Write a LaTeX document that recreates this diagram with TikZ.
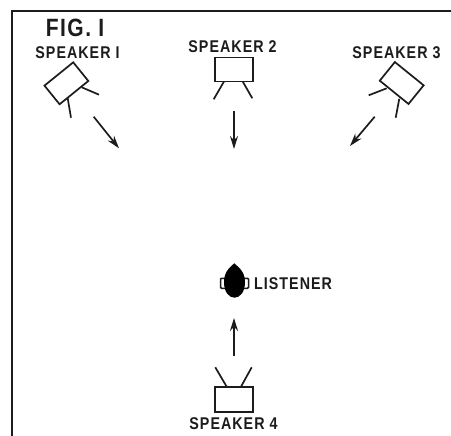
\documentclass[tikz,border=0pt]{standalone}
\usepackage{fontspec}
\setsansfont[FakeStretch=0.84,LetterSpace=6]{Liberation Sans}
\usetikzlibrary{arrows.meta,positioning}
\definecolor{inkcol}{RGB}{28,28,28}

\begin{document}
\begin{tikzpicture}[x=1pt,y=-1pt,>=Stealth,
    cabinet/.style={draw=inkcol,line width=1.7pt,fill=white,minimum width=37pt,minimum height=24pt,inner sep=0pt},
    stand/.style={draw=inkcol,line width=1.7pt},
    beam/.style={->,draw=inkcol,line width=1.7pt,>={Stealth[length=13pt,width=8pt]}},
    spklabel/.style={font=\fontsize{17}{19}\sffamily\bfseries,text=inkcol,inner sep=0pt}]
  \useasboundingbox (0,0) rectangle (451,436);
  \fill[white] (0,0) rectangle (451,436);
  \coordinate (frameb) at (12,436);
  \coordinate (framet) at (12,11);
  \coordinate (framer) at (451,11);
  \draw[inkcol,line width=1.8pt] (frameb)--(framet)--(framer);

  \node[font=\fontsize{25}{28}\sffamily\bfseries,text=inkcol,inner sep=0pt] (figlabel) at (75,27.5) {FIG. I};
  \node[spklabel] (lab1) at (77.5,53) {SPEAKER I};
  \node[spklabel] (lab2) at (232.5,46.5) {SPEAKER 2};
  \node[spklabel] (lab3) at (396.5,52.5) {SPEAKER 3};
  \node[spklabel] (lab4) at (233.5,423.5) {SPEAKER 4};
  \node[spklabel,anchor=west] (lablisten) at (254,283.5) {LISTENER};

  \node[cabinet,rotate=39] (spk1) at (66.4,83.3) {};
  \node[cabinet,minimum width=38pt] (spk2) at (234,69.5) {};
  \node[cabinet,rotate=-39] (spk3) at (401.7,83) {};
  \node[cabinet,minimum width=38pt,minimum height=25pt] (spk4) at (234.3,399.2) {};

  \coordinate (leg1a) at (81.7,87.3);  \coordinate (foot1a) at (99,94.7);
  \coordinate (leg1b) at (67.7,98.3);  \coordinate (foot1b) at (71,117.7);
  \coordinate (leg2a) at (224,81.5);   \coordinate (foot2a) at (213.7,99.3);
  \coordinate (leg2b) at (242.7,81.5); \coordinate (foot2b) at (252.3,98.3);
  \coordinate (leg3a) at (386.7,88.3); \coordinate (foot3a) at (368.7,95.3);
  \coordinate (leg3b) at (399.3,98.7); \coordinate (foot3b) at (395.7,117.7);
  \coordinate (leg4a) at (226.7,386.7); \coordinate (foot4a) at (215.3,367.3);
  \coordinate (leg4b) at (241,386.7);   \coordinate (foot4b) at (251.7,367.3);
  \foreach \s in {1,2,3,4} {
    \draw[stand] (leg\s a)--(foot\s a);
    \draw[stand] (leg\s b)--(foot\s b);
  }

  \coordinate (from1) at (93.7,116.7); \coordinate (to1) at (119,148.3);
  \coordinate (from2) at (234,111);    \coordinate (to2) at (234,149);
  \coordinate (from3) at (374.7,116.7);\coordinate (to3) at (350,146);
  \coordinate (from4) at (234,356);    \coordinate (to4) at (234,318);
  \foreach \s in {1,2,3,4}
    \draw[beam] (from\s)--(to\s);

  \node[draw=inkcol,line width=1.5pt,fill=white,minimum width=28pt,minimum height=10pt,inner sep=0pt,rounded corners=1pt] (ears) at (234.5,283.3) {};
  \fill[black] (234.3,263.3) .. controls (236,265.5) and (245,270) .. (245,282)
    .. controls (245,292) and (240,297.7) .. (234.5,297.7)
    .. controls (229,297.7) and (224,292) .. (224,282)
    .. controls (224,270) and (232.5,265.5) .. (234.3,263.3) -- cycle;
\end{tikzpicture}
\end{document}
